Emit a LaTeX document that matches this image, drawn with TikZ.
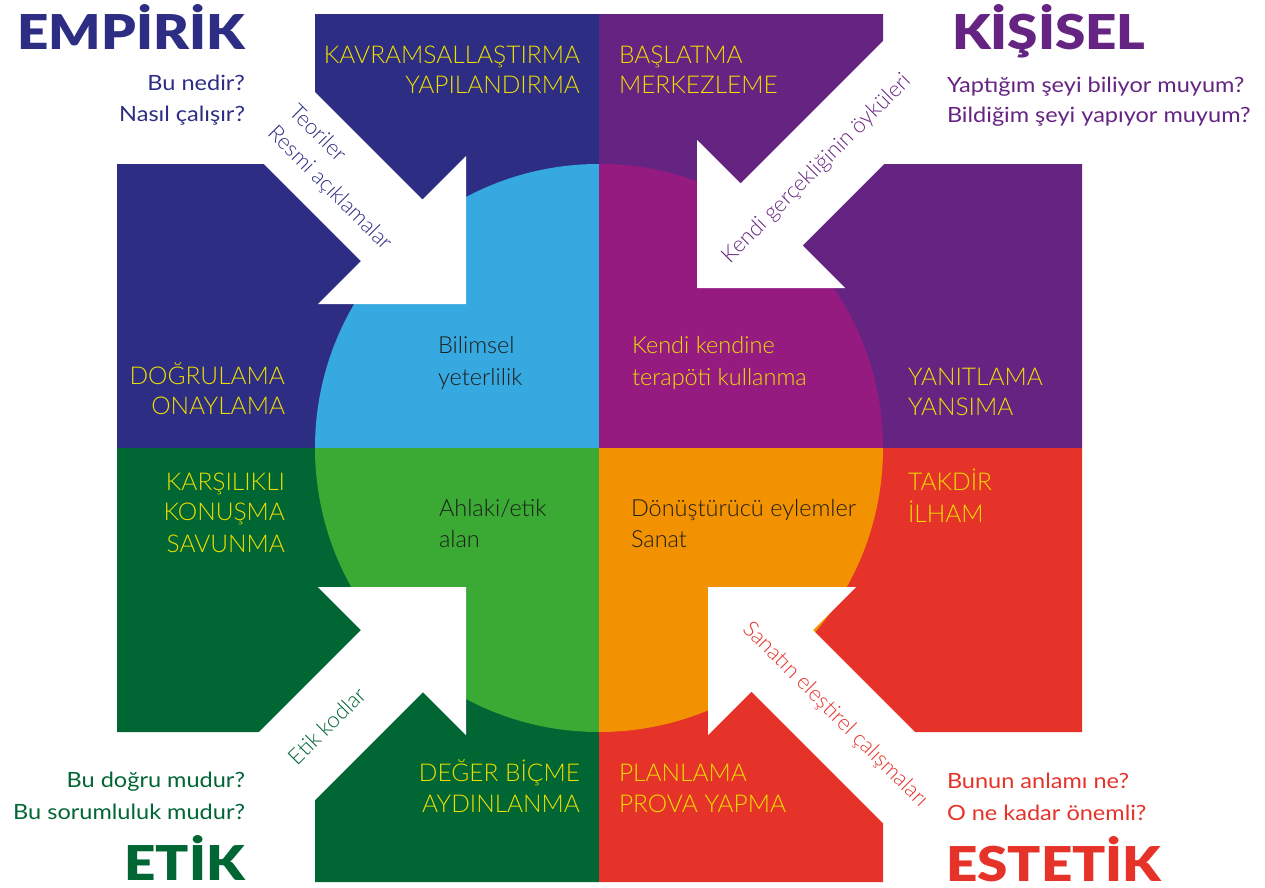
\documentclass[tikz,border=0pt]{standalone}
\usepackage{fontspec}
\setmainfont{Lato}
\newfontfamily\askfont{Lato}[FakeStretch=1.12]
\IfFontExistsTF{Lato Light}{\newfontfamily\thinfont{Lato Light}}{\newfontfamily\thinfont{Lato}}
\IfFontExistsTF{Lato Black}{\newfontfamily\heavyfont{Lato Black}[FakeStretch=1.14]}{\newfontfamily\heavyfont{Lato}[FakeStretch=1.14,FakeBold=2]}

\definecolor{empblue}{RGB}{45,46,131}
\definecolor{perpurple}{RGB}{102,36,130}
\definecolor{ethgreen}{RGB}{0,102,51}
\definecolor{estred}{RGB}{230,51,42}
\definecolor{skyblue}{RGB}{54,169,225}
\definecolor{magentac}{RGB}{149,27,129}
\definecolor{leafgreen}{RGB}{58,170,53}
\definecolor{orangec}{RGB}{243,146,0}
\definecolor{labelyellow}{RGB}{238,222,0}
\definecolor{inkblack}{RGB}{29,29,27}

\tikzset{
  txt/.style={inner sep=0pt, outer sep=0pt},
  title/.style={txt, font=\heavyfont\fontsize{48}{50}\selectfont},
  question/.style={txt, font=\askfont\fontsize{21}{25}\selectfont},
  stage/.style={txt, text=labelyellow, font=\thinfont\fontsize{24.5}{30}\selectfont},
  core/.style={txt, font=\thinfont\fontsize{23.5}{31}\selectfont},
  shafttext/.style={txt, font=\thinfont\fontsize{22}{30}\selectfont},
}

\begin{document}
\begin{tikzpicture}[x=1pt,y=-1pt]
\useasboundingbox[fill=white] (0,0) rectangle (1265,887);

% four L-shaped outer quarters
\fill[empblue]   (315,14) -- (599,14) -- (599,448) -- (117,448) -- (117,164) -- (315,164) -- cycle;
\fill[perpurple] (599,14) -- (883,14) -- (883,164) -- (1082,164) -- (1082,448) -- (599,448) -- cycle;
\fill[ethgreen]  (117,448) -- (599,448) -- (599,882) -- (315,882) -- (315,732) -- (117,732) -- cycle;
\fill[estred]    (599,448) -- (1082,448) -- (1082,732) -- (883,732) -- (883,882) -- (599,882) -- cycle;

% central disc, one colour per quarter
\foreach \col/\xa/\ya in {skyblue/315/164, magentac/599/164, leafgreen/315/448, orangec/599/448} {
  \begin{scope}
    \clip (\xa,\ya) rectangle ++(284,284);
    \fill[\col] (599,448) circle[radius=284pt];
  \end{scope}
}

% four white arrows pointing inward
\fill[white] (300,77) -- (422.5,199.5) -- (466,156) -- (466,304) -- (318,304) -- (361,261) -- (250,150) -- cycle;
\fill[white] (900,24) -- (740.5,183.5) -- (697,140) -- (697,288) -- (845,288) -- (802.5,245.5) -- (900,148) -- cycle;
\fill[white] (245,746) -- (361,630) -- (318,587) -- (466,587) -- (466,735) -- (423,692) -- (300,815) -- cycle;
\fill[white] (950,767) -- (813,630) -- (856,587) -- (708,587) -- (708,735) -- (751.5,691.5) -- (900,840) -- cycle;

% texts along the arrows
\node[shafttext, text=empblue, rotate=-45, align=left] (shaftA) at (340,178) {Teoriler\\Resmi açıklamalar};
\node[shafttext, text=perpurple, rotate=45] (shaftB) at (817,169) {Kendi gerçekliğinin öyküleri};
\node[shafttext, text=ethgreen, rotate=45] (shaftC) at (327,726) {Etik kodlar};
\node[shafttext, text=estred, rotate=-45] (shaftD) at (835,715) {Sanatın eleştirel çalışmaları};

% titles
\node[title, text=empblue, anchor=base east] (empirik) at (245,49) {EMPİRİK};
\node[title, text=perpurple, anchor=base west] (kisisel) at (952,49) {KİŞİSEL};
\node[title, text=ethgreen, anchor=base east] (etik) at (245,880) {ETİK};
\node[title, text=estred, anchor=base west] (estetik) at (946,881) {ESTETİK};

% guiding questions
\node[question, text=empblue, anchor=base east] (qA1) at (245,90) {Bu nedir?};
\node[question, text=empblue, anchor=base east] (qA2) at (245,121) {Nasıl çalışır?};
\node[question, text=perpurple, anchor=base west] (qB1) at (947,92) {Yaptığım şeyi biliyor muyum?};
\node[question, text=perpurple, anchor=base west] (qB2) at (947,122) {Bildiğim şeyi yapıyor muyum?};
\node[question, text=ethgreen, anchor=base east] (qC1) at (245,787) {Bu doğru mudur?};
\node[question, text=ethgreen, anchor=base east] (qC2) at (245,819) {Bu sorumluluk mudur?};
\node[question, text=estred, anchor=base west] (qD1) at (947,788) {Bunun anlamı ne?};
\node[question, text=estred, anchor=base west] (qD2) at (947,820) {O ne kadar önemli?};

% stage labels in the outer quarters
\node[stage, anchor=base east] (s1a) at (580,63) {KAVRAMSALLAŞTIRMA};
\node[stage, anchor=base east] (s1b) at (580,93) {YAPILANDIRMA};
\node[stage, anchor=base west] (s2a) at (619,63) {BAŞLATMA};
\node[stage, anchor=base west] (s2b) at (619,93) {MERKEZLEME};
\node[stage, anchor=base east] (s3a) at (285,384) {DOĞRULAMA};
\node[stage, anchor=base east] (s3b) at (285,414) {ONAYLAMA};
\node[stage, anchor=base west] (s4a) at (908,385) {YANITLAMA};
\node[stage, anchor=base west] (s4b) at (908,415) {YANSIMA};
\node[stage, anchor=base east] (s5a) at (285,490) {KARŞILIKLI};
\node[stage, anchor=base east] (s5b) at (285,520) {KONUŞMA};
\node[stage, anchor=base east] (s5c) at (285,552) {SAVUNMA};
\node[stage, anchor=base west] (s6a) at (908,490) {TAKDİR};
\node[stage, anchor=base west] (s6b) at (908,522) {İLHAM};
\node[stage, anchor=base east] (s7a) at (580,781) {DEĞER BİÇME};
\node[stage, anchor=base east] (s7b) at (580,812) {AYDINLANMA};
\node[stage, anchor=base west] (s8a) at (619,781) {PLANLAMA};
\node[stage, anchor=base west] (s8b) at (619,812) {PROVA YAPMA};

% texts inside the disc
\node[core, text=inkblack, anchor=base west] (cA1) at (438,353) {Bilimsel};
\node[core, text=inkblack, anchor=base west] (cA2) at (438,385) {yeterlilik};
\node[core, text=labelyellow, anchor=base west] (cB1) at (632,353) {Kendi kendine};
\node[core, text=labelyellow, anchor=base west] (cB2) at (632,385) {terapöti kullanma};
\node[core, text=inkblack, anchor=base west] (cC1) at (439,516) {Ahlaki/etik};
\node[core, text=inkblack, anchor=base west] (cC2) at (439,547) {alan};
\node[core, text=inkblack, anchor=base west] (cD1) at (631,516) {Dönüştürücü eylemler};
\node[core, text=inkblack, anchor=base west] (cD2) at (631,547) {Sanat};
\end{tikzpicture}
\end{document}
